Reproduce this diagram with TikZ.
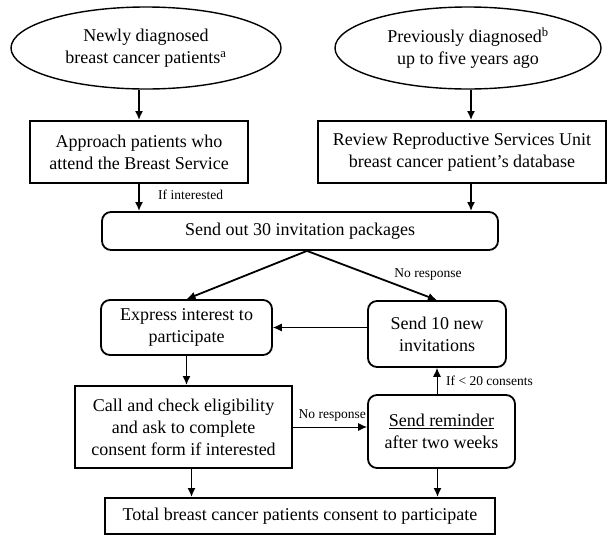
\documentclass[tikz,border=0pt]{standalone}
\usepackage{fontspec}
\setmainfont{Liberation Serif}
\usetikzlibrary{shapes.geometric,arrows.meta}

\tikzset{
  stepbox/.style={draw, line width=1.8pt, inner sep=0pt, align=center, font=\fontsize{18}{22}\selectfont},
  roundbox/.style={stepbox, rounded corners=9pt},
  sourceell/.style={ellipse, draw, line width=1.4pt, inner sep=0pt, align=center, font=\fontsize{18}{22}\selectfont},
  flow/.style={line width=1.8pt, -{Latex[length=9pt,width=8pt]}},
  thinflow/.style={line width=1pt, -{Latex[length=9pt,width=8pt]}},
  note/.style={inner sep=0pt, font=\fontsize{13.5}{15}\selectfont}
}

\begin{document}
\begin{tikzpicture}[x=1pt,y=1pt,yscale=-1,xscale=1]
\useasboundingbox (0,0) rectangle (610,536);

%Shape: Ellipse [newly]
\node [sourceell, minimum width=270, minimum height=82] (newly) at (146,48) {Newly diagnosed\\breast cancer patients\textsuperscript{a}};
%Shape: Ellipse [previous]
\node [sourceell, minimum width=266, minimum height=82] (previous) at (468,48) {Previously diagnosed\textsuperscript{b}\\up to five years ago};

%Shape: Rectangle [approach]
\node [stepbox, minimum width=218, minimum height=62] (approach) at (139,152) {Approach patients who\\attend the Breast Service};
%Shape: Rectangle [review]
\node [stepbox, minimum width=288, minimum height=62] (review) at (462,152) {Review Reproductive Services Unit\\breast cancer patient's database};

%Shape: Rounded Rect [packages]
\node [roundbox, minimum width=396, minimum height=38] (packages) at (300,231) {Send out 30 invitation packages};

%Shape: Rounded Rect [express]
\node [roundbox, minimum width=171, minimum height=55] (express) at (186.5,327.5) {Express interest to\\participate};
%Shape: Rounded Rect [newinv]
\node [roundbox, minimum width=138, minimum height=66] (newinv) at (437,334) {Send 10 new\\invitations};

%Shape: Rectangle [call]
\node [stepbox, minimum width=217, minimum height=82] (call) at (183.5,427) {Call and check eligibility\\and ask to complete\\consent form if interested};
%Shape: Rounded Rect [reminder]
\node [roundbox, minimum width=147, minimum height=73] (reminder) at (441.5,431.5) {\underline{Send reminder}\\after two weeks};

%Shape: Rectangle [total]
\node [stepbox, minimum width=390, minimum height=36] (total) at (300,516) {Total breast cancer patients consent to participate};

%Straight Lines [id:arrows]
\draw [flow] (newly.south -| approach.north) -- (approach.north);
\draw [flow] ([xshift=9pt]review.south |- previous.south) -- ([xshift=9pt]review.north);
\draw [flow] (approach.south) -- (approach.south |- packages.north);
\draw [flow] ([xshift=9pt]review.south) -- ([xshift=9pt]review.south |- packages.north);
\draw [flow] ([xshift=7pt]packages.south) -- (express.north);
\draw [flow] ([xshift=7pt]packages.south) -- (newinv.north);
\draw [thinflow, line width=0.8pt] (express.east -| newinv.west) -- (express.east);
\draw [flow] (express.south) -- (express.south |- call.north);
\draw [thinflow] (call.east) -- (call.east -| reminder.west);
\draw [thinflow] (newinv.south |- reminder.north) -- (newinv.south);
\draw [flow] ([xshift=8pt]call.south) -- ([xshift=8pt]call.south |- total.north);
\draw [flow] ([xshift=-4pt]reminder.south) -- ([xshift=-4pt]reminder.south |- total.north);

% Text Node
\node [note, anchor=west] (ifint) at (158,195) {If interested};
% Text Node
\node [note] (noresp) at (428,275) {No response};
% Text Node
\node [note, anchor=east] (noresptwo) at (366,416) {No response};
% Text Node
\node [note, anchor=west] (iflow) at (446,381) {If < 20 consents};

\end{tikzpicture}
\end{document}
